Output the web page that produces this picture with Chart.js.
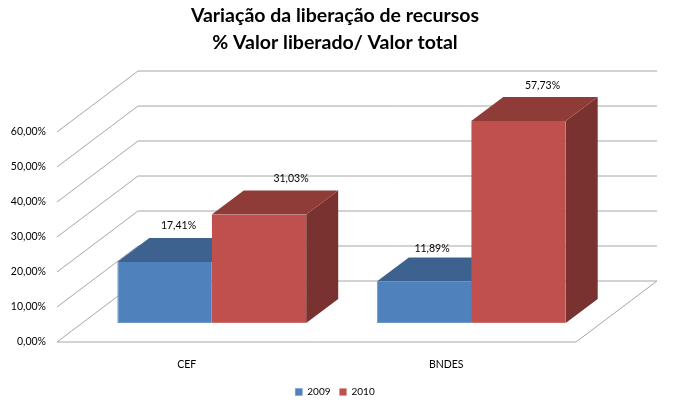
<!DOCTYPE html>
<html>
<head>
<meta charset="utf-8">
<title>Variação da liberação de recursos</title>
<script src="https://cdn.jsdelivr.net/npm/chart.js@4"></script>
<style>
  body { margin: 0; background: #fff; }
  canvas { display: block; }
</style>
</head>
<body>
<canvas id="chart" width="687" height="400"></canvas>
<script>
const categories = ['CEF', 'BNDES'];
const series2009 = [17.41, 11.89];
const series2010 = [31.03, 57.73];
const titleLines = ['Variação da liberação de recursos', '% Valor liberado/ Valor total'];

const fontName = 'Lato, Carlito, sans-serif';

// depth of the 3d box: walls, where the bars stand on the floor, bar thickness
const wall = { x: 81, y: -61 };
const barPlane = { x: 25, y: -19 };
const barDepth = { x: 32, y: -24 };

// excel labels were moved by hand, so each one has its own nudge
const labelNudge = [
  [[14, -12], [8, -9]],
  [[32, -12], [24, -11]]
];

const percent = (v) => v.toFixed(2).replace('.', ',') + '%';

function poly(ctx, points, color) {
  ctx.fillStyle = color;
  ctx.beginPath();
  points.forEach((p, i) => (i ? ctx.lineTo(p[0], p[1]) : ctx.moveTo(p[0], p[1])));
  ctx.closePath();
  ctx.fill();
}

function drawWalls(chart) {
  const { ctx, chartArea, scales } = chart;
  ctx.save();
  ctx.strokeStyle = '#a6a6a6';
  ctx.lineWidth = 1;
  scales.y.ticks.forEach((tick) => {
    const y = scales.y.getPixelForValue(tick.value);
    ctx.beginPath();
    ctx.moveTo(chartArea.left, y);
    ctx.lineTo(chartArea.left + wall.x, y + wall.y);
    ctx.lineTo(chartArea.right + wall.x, y + wall.y);
    ctx.stroke();
  });
  // floor edges
  const floor = scales.y.getPixelForValue(0);
  ctx.beginPath();
  ctx.moveTo(chartArea.left, floor);
  ctx.lineTo(chartArea.right, floor);
  ctx.lineTo(chartArea.right + wall.x, floor + wall.y);
  ctx.stroke();
  ctx.restore();
}

function drawBars(chart) {
  const ctx = chart.ctx;
  chart.data.datasets.forEach((ds, i) => {
    const meta = chart.getDatasetMeta(i);
    ctx.save();
    ctx.translate(barPlane.x, barPlane.y);
    meta.controller.draw();
    meta.data.forEach((bar) => {
      const l = bar.x - bar.width / 2;
      const r = bar.x + bar.width / 2;
      const dx = barDepth.x;
      const dy = barDepth.y;
      poly(ctx, [[r, bar.y], [r + dx, bar.y + dy], [r + dx, bar.base + dy], [r, bar.base]], ds.sideColor);
      poly(ctx, [[l, bar.y], [l + dx, bar.y + dy], [r + dx, bar.y + dy], [r, bar.y]], ds.topColor);
    });
    ctx.restore();
  });
}

function drawLabels(chart) {
  const ctx = chart.ctx;
  ctx.save();
  ctx.font = '10.5px ' + fontName;
  ctx.fillStyle = '#000';
  ctx.textAlign = 'center';
  ctx.textBaseline = 'middle';
  chart.data.datasets.forEach((ds, i) => {
    chart.getDatasetMeta(i).data.forEach((bar, j) => {
      const x = bar.x + barPlane.x + labelNudge[i][j][0];
      const y = bar.y + barPlane.y + barDepth.y + labelNudge[i][j][1];
      ctx.fillText(percent(ds.data[j]), x, y);
    });
  });
  ctx.restore();
}

// chart.js paints the last dataset first, here 2010 has to sit in front of 2009
const box3d = {
  id: 'box3d',
  beforeDatasetsDraw(chart) {
    drawWalls(chart);
    drawBars(chart);
    drawLabels(chart);
    return false;
  }
};

new Chart(document.getElementById('chart'), {
  type: 'bar',
  data: {
    labels: categories,
    datasets: [
      {
        label: '2009',
        data: series2009,
        backgroundColor: '#4f81bd',
        borderColor: '#6f97c8',
        borderWidth: { left: 1, bottom: 1, top: 0, right: 0 },
        borderSkipped: false,
        topColor: '#3d628f',
        sideColor: '#375a85'
      },
      {
        label: '2010',
        data: series2010,
        backgroundColor: '#c0504d',
        borderColor: '#cb6f6c',
        borderWidth: { left: 0, bottom: 1, top: 0, right: 0 },
        borderSkipped: false,
        topColor: '#8f3b38',
        sideColor: '#7a3230'
      }
    ]
  },
  plugins: [box3d],
  options: {
    responsive: false,
    animation: false,
    barPercentage: 1,
    categoryPercentage: 0.728,
    layout: { padding: { right: 17, bottom: -7 } },
    plugins: {
      tooltip: { enabled: false },
      title: {
        display: true,
        text: titleLines,
        color: '#000',
        font: { family: fontName, size: 19.5, weight: 'bold', lineHeight: 1.385 },
        padding: { top: 2.5, bottom: 75.5 }
      },
      legend: {
        position: 'bottom',
        labels: {
          boxWidth: 7,
          boxHeight: 7,
          padding: 9,
          color: '#000',
          font: { family: fontName, size: 10 }
        }
      }
    },
    scales: {
      x: {
        grid: { display: false },
        border: { display: false },
        ticks: { color: '#000', padding: 8, maxRotation: 0, font: { family: fontName, size: 10.5 } },
        afterFit(scale) {
          scale.height = 36;
          scale.paddingRight = 111;
        }
      },
      y: {
        min: 0,
        max: 60,
        grid: { display: false },
        border: { display: false },
        ticks: {
          stepSize: 10,
          color: '#000',
          padding: 3,
          font: { family: fontName, size: 10.5 },
          callback: (v) => percent(v)
        },
        afterFit(scale) {
          scale.width = 57;
        }
      }
    }
  }
});
</script>
</body>
</html>
